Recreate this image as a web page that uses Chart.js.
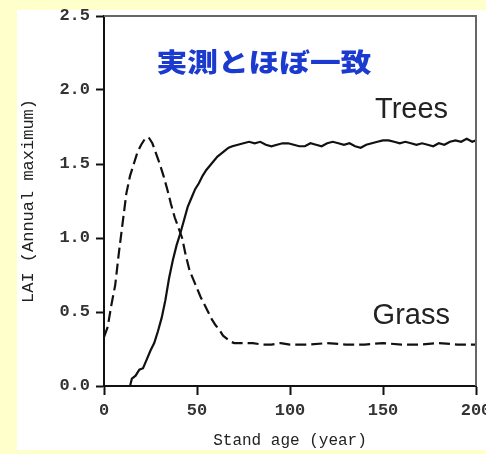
<!DOCTYPE html>
<html>
<head>
<meta charset="utf-8">
<script src="https://cdn.jsdelivr.net/npm/chart.js@4"></script>
<style>
  html, body { margin: 0; padding: 0; background: #ffffcc; }
  #wrap { width: 486px; height: 454px; }
</style>
</head>
<body>
<div id="wrap"><canvas id="c" width="486" height="454"></canvas></div>
<script>
// Tree LAI (annual maximum) by stand age
const treeYears = [0, 14, 15, 17, 19, 21, 23, 25, 27, 29, 31, 33, 35, 37, 39, 41, 43, 45, 47, 49, 51, 53, 55, 57, 59, 61, 63, 65, 67, 69, 72, 75, 78, 81, 84, 87, 90, 93, 96, 99, 102, 105, 108, 111, 114, 117, 120, 123, 126, 129, 132, 135, 138, 141, 144, 147, 150, 153, 156, 159, 162, 165, 168, 171, 174, 177, 180, 183, 186, 189, 192, 195, 198, 200];
const treeLAI   = [0, 0, 0.05, 0.07, 0.11, 0.12, 0.18, 0.24, 0.29, 0.37, 0.46, 0.58, 0.73, 0.85, 0.95, 1.03, 1.12, 1.21, 1.27, 1.33, 1.37, 1.42, 1.46, 1.49, 1.52, 1.55, 1.57, 1.59, 1.61, 1.62, 1.63, 1.64, 1.65, 1.64, 1.65, 1.63, 1.62, 1.63, 1.64, 1.64, 1.63, 1.62, 1.62, 1.64, 1.63, 1.62, 1.64, 1.65, 1.64, 1.63, 1.64, 1.62, 1.61, 1.63, 1.64, 1.65, 1.66, 1.66, 1.65, 1.64, 1.65, 1.64, 1.63, 1.64, 1.63, 1.62, 1.64, 1.63, 1.65, 1.66, 1.65, 1.67, 1.65, 1.66];

// Grass LAI (annual maximum) by stand age
const grassYears = [0, 2, 4, 6, 8, 10, 12, 14, 16, 18, 20, 22, 24, 26, 28, 30, 32, 34, 36, 38, 40, 42, 44, 46, 48, 50, 52, 54, 56, 58, 60, 62, 64, 66, 68, 70, 75, 80, 85, 90, 95, 100, 110, 120, 130, 140, 150, 160, 170, 180, 190, 200];
const grassLAI   = [0.33, 0.40, 0.55, 0.68, 0.90, 1.10, 1.30, 1.42, 1.50, 1.58, 1.63, 1.67, 1.68, 1.64, 1.57, 1.50, 1.42, 1.33, 1.23, 1.14, 1.07, 1.00, 0.88, 0.78, 0.72, 0.66, 0.60, 0.55, 0.50, 0.45, 0.41, 0.38, 0.34, 0.32, 0.30, 0.29, 0.29, 0.29, 0.28, 0.28, 0.29, 0.28, 0.28, 0.29, 0.28, 0.28, 0.29, 0.28, 0.28, 0.29, 0.28, 0.28];

// Axis tick values
const xTicks = [0, 50, 100, 150, 200];
const yTicks = [0.0, 0.5, 1.0, 1.5, 2.0, 2.5];

const toPoints = (xs, ys) => xs.map((x, i) => ({ x: x, y: ys[i] }));

const monoFamily = '"Liberation Mono", "DejaVu Sans Mono", monospace';
const tickFont = { family: monoFamily, size: 17, weight: 'bold' };
const titleFont = { family: monoFamily, size: 16 };

const backdrop = {
  id: 'backdrop',
  beforeDraw(chart) {
    const ctx = chart.ctx;
    ctx.save();
    ctx.fillStyle = '#ffffcc';
    ctx.fillRect(0, 0, chart.width, chart.height);
    ctx.fillStyle = '#ffffff';
    ctx.fillRect(17, 10, chart.width - 17, 440);
    ctx.restore();
  },
  afterDatasetsDraw(chart) {
    const { ctx, chartArea: a } = chart;
    ctx.save();
    ctx.strokeStyle = '#666666';
    ctx.lineWidth = 2;
    ctx.beginPath();
    ctx.moveTo(a.left, a.top);
    ctx.lineTo(a.right, a.top);
    ctx.lineTo(a.right, a.bottom);
    ctx.stroke();
    ctx.restore();
  }
};

const labels = {
  id: 'labels',
  afterDraw(chart) {
    const { ctx } = chart;
    const xs = chart.scales.x, ys = chart.scales.y;
    ctx.save();
    ctx.textBaseline = 'middle';

    // blue remark
    ctx.font = '900 26px "Noto Sans CJK JP", sans-serif';
    ctx.fillStyle = '#1a3ad0';
    const msg = '実測とほぼ一致';
    const w = ctx.measureText(msg).width;
    const cx = xs.getPixelForValue(86), cy = ys.getPixelForValue(2.19);
    ctx.translate(cx, cy);
    ctx.scale(215 / w, 1);
    ctx.textAlign = 'center';
    ctx.fillText(msg, 0, 0);
    ctx.setTransform(1, 0, 0, 1, 0, 0);

    // series names
    ctx.font = '29px "Liberation Sans", Arial, sans-serif';
    ctx.fillStyle = '#222222';
    ctx.textAlign = 'right';
    ctx.fillText('Trees', xs.getPixelForValue(185), ys.getPixelForValue(1.865));
    ctx.fillText('Grass', xs.getPixelForValue(186), ys.getPixelForValue(0.47));
    ctx.restore();
  }
};

new Chart(document.getElementById('c'), {
  type: 'line',
  data: {
    datasets: [
      {
        label: 'Trees',
        data: toPoints(treeYears, treeLAI),
        borderColor: '#111111',
        borderWidth: 2.2,
        pointRadius: 0,
        tension: 0,
        fill: false,
        clip: false
      },
      {
        label: 'Grass',
        data: toPoints(grassYears, grassLAI),
        borderColor: '#111111',
        borderWidth: 2.2,
        borderDash: [11, 5],
        pointRadius: 0,
        tension: 0,
        fill: false,
        clip: false
      }
    ]
  },
  options: {
    responsive: false,
    animation: false,
    devicePixelRatio: 1,
    layout: { padding: { left: 0, top: 16, right: 10, bottom: 0 } },
    plugins: { legend: { display: false }, tooltip: { enabled: false } },
    scales: {
      x: {
        type: 'linear',
        min: 0,
        max: 200,
        afterBuildTicks(scale) { scale.ticks = xTicks.map(v => ({ value: v })); },
        afterFit(scale) { scale.height = 68; scale.paddingLeft = 0; scale.paddingRight = 0; },
        ticks: { font: tickFont, color: '#333333', padding: 6, maxRotation: 0, autoSkip: false },
        grid: { drawOnChartArea: false, drawTicks: true, tickLength: 9, tickColor: '#111111', tickWidth: 2 },
        border: { color: '#111111', width: 2 },
        title: { display: true, text: 'Stand age (year)', font: titleFont, color: '#222222', padding: { top: 0, bottom: 4 } }
      },
      y: {
        type: 'linear',
        min: 0,
        max: 2.5,
        afterBuildTicks(scale) { scale.ticks = yTicks.map(v => ({ value: v })); },
        afterFit(scale) { scale.width = 104; scale.paddingTop = 0; scale.paddingBottom = 0; },
        ticks: { font: tickFont, color: '#333333', padding: 6, callback: v => Number(v).toFixed(1) },
        grid: { drawOnChartArea: false, drawTicks: true, tickLength: 8, tickColor: '#111111', tickWidth: 2 },
        border: { color: '#111111', width: 2 },
        title: { display: true, text: 'LAI (Annual maximum)', font: { family: monoFamily, size: 17 }, color: '#222222', padding: { top: 18, bottom: 0 } }
      }
    }
  },
  plugins: [backdrop, labels]
});
</script>
</body>
</html>
